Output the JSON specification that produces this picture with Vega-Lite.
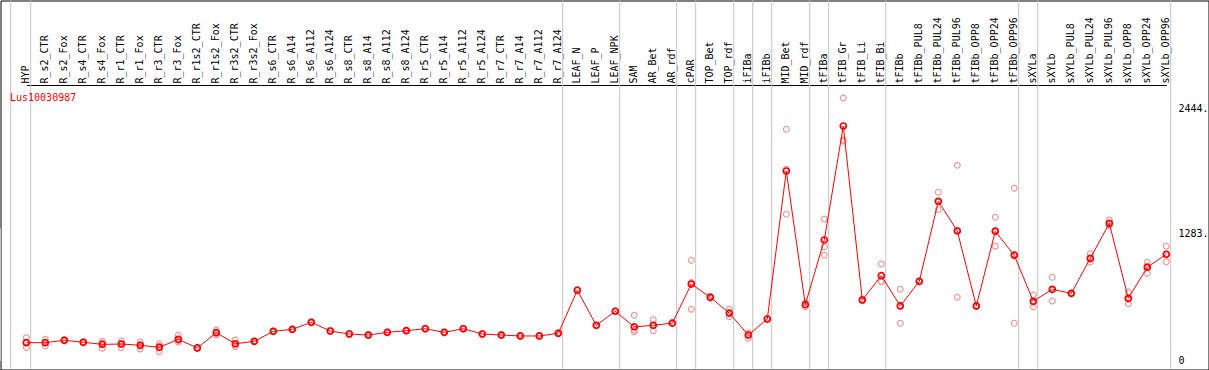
{
  "$schema": "https://vega.github.io/schema/vega-lite/v6.json",
  "autosize": "none",
  "width": 1208,
  "height": 369,
  "padding": {"left": 0.5, "top": 0.5, "right": 0.5, "bottom": 0.5},
  "background": "white",
  "config": {
    "view": {"stroke": "black", "strokeWidth": 1},
    "font": "DejaVu Sans Mono"
  },
  "title": {
    "text": "Lus10030987",
    "color": "#ff0000",
    "font": "DejaVu Sans Mono",
    "fontSize": 10,
    "fontWeight": "normal",
    "anchor": "start",
    "frame": "group",
    "orient": "top",
    "offset": -103,
    "dx": 9.5
  },
  "datasets": {
    "means": [
      {"s": "HYP", "v": 177}, {"s": "R_s2_CTR", "v": 177}, {"s": "R_s2_Fox", "v": 200},
      {"s": "R_s4_CTR", "v": 181}, {"s": "R_s4_Fox", "v": 161}, {"s": "R_r1_CTR", "v": 164},
      {"s": "R_r1_Fox", "v": 152}, {"s": "R_r3_CTR", "v": 132}, {"s": "R_r3_Fox", "v": 210},
      {"s": "R_r1s2_CTR", "v": 126}, {"s": "R_r1s2_Fox", "v": 274}, {"s": "R_r3s2_CTR", "v": 167},
      {"s": "R_r3s2_Fox", "v": 190}, {"s": "R_s6_CTR", "v": 287}, {"s": "R_s6_A14", "v": 306},
      {"s": "R_s6_A112", "v": 374}, {"s": "R_s6_A124", "v": 290}, {"s": "R_s8_CTR", "v": 261},
      {"s": "R_s8_A14", "v": 251}, {"s": "R_s8_A112", "v": 277}, {"s": "R_s8_A124", "v": 293},
      {"s": "R_r5_CTR", "v": 312}, {"s": "R_r5_A14", "v": 277}, {"s": "R_r5_A112", "v": 312},
      {"s": "R_r5_A124", "v": 261}, {"s": "R_r7_CTR", "v": 251}, {"s": "R_r7_A14", "v": 242},
      {"s": "R_r7_A112", "v": 242}, {"s": "R_r7_A124", "v": 268}, {"s": "LEAF_N", "v": 684},
      {"s": "LEAF_P", "v": 345}, {"s": "LEAF_NPK", "v": 481}, {"s": "SAM", "v": 330},
      {"s": "AR_Bet", "v": 345}, {"s": "AR_rdf", "v": 366}, {"s": "cPAR", "v": 744},
      {"s": "TOP_Bet", "v": 616}, {"s": "TOP_rdf", "v": 463}, {"s": "iFIBa", "v": 250},
      {"s": "iFIBb", "v": 406}, {"s": "MID_Bet", "v": 1837}, {"s": "MID_rdf", "v": 545},
      {"s": "tFIBa", "v": 1170}, {"s": "tFIB_Gr", "v": 2272}, {"s": "tFIB_Li", "v": 590},
      {"s": "tFIB_Bi", "v": 825}, {"s": "tFIBb", "v": 532}, {"s": "tFIBb_PUL8", "v": 770},
      {"s": "tFIBb_PUL24", "v": 1544}, {"s": "tFIBb_PUL96", "v": 1257}, {"s": "tFIBb_OPP8", "v": 532},
      {"s": "tFIBb_OPP24", "v": 1254}, {"s": "tFIBb_OPP96", "v": 1022}, {"s": "sXYLa", "v": 577},
      {"s": "sXYLb", "v": 693}, {"s": "sXYLb_PUL8", "v": 654}, {"s": "sXYLb_PUL24", "v": 993},
      {"s": "sXYLb_PUL96", "v": 1331}, {"s": "sXYLb_OPP8", "v": 606}, {"s": "sXYLb_OPP24", "v": 906},
      {"s": "sXYLb_OPP96", "v": 1032}
    ],
    "reps": [
      {"s": "HYP", "v": 225}, {"s": "HYP", "v": 130}, {"s": "HYP", "v": 177},
      {"s": "R_s2_CTR", "v": 210}, {"s": "R_s2_CTR", "v": 145}, {"s": "R_s2_CTR", "v": 177},
      {"s": "R_s2_Fox", "v": 205}, {"s": "R_s2_Fox", "v": 195},
      {"s": "R_s4_CTR", "v": 185}, {"s": "R_s4_CTR", "v": 178},
      {"s": "R_s4_Fox", "v": 190}, {"s": "R_s4_Fox", "v": 123}, {"s": "R_s4_Fox", "v": 170},
      {"s": "R_r1_CTR", "v": 193}, {"s": "R_r1_CTR", "v": 129}, {"s": "R_r1_CTR", "v": 170},
      {"s": "R_r1_Fox", "v": 184}, {"s": "R_r1_Fox", "v": 116}, {"s": "R_r1_Fox", "v": 156},
      {"s": "R_r3_CTR", "v": 164}, {"s": "R_r3_CTR", "v": 90}, {"s": "R_r3_CTR", "v": 142},
      {"s": "R_r3_Fox", "v": 248}, {"s": "R_r3_Fox", "v": 184}, {"s": "R_r3_Fox", "v": 198},
      {"s": "R_r1s2_CTR", "v": 130}, {"s": "R_r1s2_CTR", "v": 122},
      {"s": "R_r1s2_Fox", "v": 300}, {"s": "R_r1s2_Fox", "v": 251}, {"s": "R_r1s2_Fox", "v": 271},
      {"s": "R_r3s2_CTR", "v": 203}, {"s": "R_r3s2_CTR", "v": 138}, {"s": "R_r3s2_CTR", "v": 160},
      {"s": "R_r3s2_Fox", "v": 193}, {"s": "R_r3s2_Fox", "v": 187},
      {"s": "R_s6_CTR", "v": 291}, {"s": "R_s6_CTR", "v": 283},
      {"s": "R_s6_A14", "v": 310}, {"s": "R_s6_A14", "v": 302},
      {"s": "R_s6_A112", "v": 378}, {"s": "R_s6_A112", "v": 370},
      {"s": "R_s6_A124", "v": 294}, {"s": "R_s6_A124", "v": 286},
      {"s": "R_s8_CTR", "v": 265}, {"s": "R_s8_CTR", "v": 257},
      {"s": "R_s8_A14", "v": 255}, {"s": "R_s8_A14", "v": 247},
      {"s": "R_s8_A112", "v": 281}, {"s": "R_s8_A112", "v": 273},
      {"s": "R_s8_A124", "v": 297}, {"s": "R_s8_A124", "v": 289},
      {"s": "R_r5_CTR", "v": 316}, {"s": "R_r5_CTR", "v": 308},
      {"s": "R_r5_A14", "v": 281}, {"s": "R_r5_A14", "v": 273},
      {"s": "R_r5_A112", "v": 316}, {"s": "R_r5_A112", "v": 308},
      {"s": "R_r5_A124", "v": 265}, {"s": "R_r5_A124", "v": 257},
      {"s": "R_r7_CTR", "v": 255}, {"s": "R_r7_CTR", "v": 247},
      {"s": "R_r7_A14", "v": 246}, {"s": "R_r7_A14", "v": 238},
      {"s": "R_r7_A112", "v": 246}, {"s": "R_r7_A112", "v": 238},
      {"s": "R_r7_A124", "v": 272}, {"s": "R_r7_A124", "v": 264},
      {"s": "LEAF_N", "v": 688}, {"s": "LEAF_N", "v": 680},
      {"s": "LEAF_P", "v": 348}, {"s": "LEAF_P", "v": 342},
      {"s": "LEAF_NPK", "v": 484}, {"s": "LEAF_NPK", "v": 478},
      {"s": "SAM", "v": 442}, {"s": "SAM", "v": 300}, {"s": "SAM", "v": 283},
      {"s": "AR_Bet", "v": 399}, {"s": "AR_Bet", "v": 293}, {"s": "AR_Bet", "v": 345},
      {"s": "AR_rdf", "v": 369}, {"s": "AR_rdf", "v": 363},
      {"s": "cPAR", "v": 973}, {"s": "cPAR", "v": 500}, {"s": "cPAR", "v": 760},
      {"s": "TOP_Bet", "v": 625}, {"s": "TOP_Bet", "v": 608},
      {"s": "TOP_rdf", "v": 500}, {"s": "TOP_rdf", "v": 428}, {"s": "TOP_rdf", "v": 463},
      {"s": "iFIBa", "v": 274}, {"s": "iFIBa", "v": 219}, {"s": "iFIBa", "v": 257},
      {"s": "iFIBb", "v": 410}, {"s": "iFIBb", "v": 402},
      {"s": "MID_Bet", "v": 2240}, {"s": "MID_Bet", "v": 1418}, {"s": "MID_Bet", "v": 1853},
      {"s": "MID_rdf", "v": 564}, {"s": "MID_rdf", "v": 525}, {"s": "MID_rdf", "v": 545},
      {"s": "tFIBa", "v": 1373}, {"s": "tFIBa", "v": 1105}, {"s": "tFIBa", "v": 1022},
      {"s": "tFIB_Gr", "v": 2543}, {"s": "tFIB_Gr", "v": 2137}, {"s": "tFIB_Gr", "v": 2124},
      {"s": "tFIB_Li", "v": 600}, {"s": "tFIB_Li", "v": 582},
      {"s": "tFIB_Bi", "v": 938}, {"s": "tFIB_Bi", "v": 770}, {"s": "tFIB_Bi", "v": 765},
      {"s": "tFIBb", "v": 693}, {"s": "tFIBb", "v": 364}, {"s": "tFIBb", "v": 540},
      {"s": "tFIBb_PUL8", "v": 775}, {"s": "tFIBb_PUL8", "v": 765},
      {"s": "tFIBb_PUL24", "v": 1631}, {"s": "tFIBb_PUL24", "v": 1463}, {"s": "tFIBb_PUL24", "v": 1540},
      {"s": "tFIBb_PUL96", "v": 1892}, {"s": "tFIBb_PUL96", "v": 616}, {"s": "tFIBb_PUL96", "v": 1263},
      {"s": "tFIBb_OPP8", "v": 537}, {"s": "tFIBb_OPP8", "v": 527},
      {"s": "tFIBb_OPP24", "v": 1389}, {"s": "tFIBb_OPP24", "v": 1109}, {"s": "tFIBb_OPP24", "v": 1264},
      {"s": "tFIBb_OPP96", "v": 1670}, {"s": "tFIBb_OPP96", "v": 364}, {"s": "tFIBb_OPP96", "v": 1032},
      {"s": "sXYLa", "v": 638}, {"s": "sXYLa", "v": 525}, {"s": "sXYLa", "v": 568},
      {"s": "sXYLb", "v": 809}, {"s": "sXYLb", "v": 580}, {"s": "sXYLb", "v": 690},
      {"s": "sXYLb_PUL8", "v": 658}, {"s": "sXYLb_PUL8", "v": 650},
      {"s": "sXYLb_PUL24", "v": 1037}, {"s": "sXYLb_PUL24", "v": 957}, {"s": "sXYLb_PUL24", "v": 985},
      {"s": "sXYLb_PUL96", "v": 1363}, {"s": "sXYLb_PUL96", "v": 1320}, {"s": "sXYLb_PUL96", "v": 1310},
      {"s": "sXYLb_OPP8", "v": 667}, {"s": "sXYLb_OPP8", "v": 554}, {"s": "sXYLb_OPP8", "v": 597},
      {"s": "sXYLb_OPP24", "v": 954}, {"s": "sXYLb_OPP24", "v": 848}, {"s": "sXYLb_OPP24", "v": 916},
      {"s": "sXYLb_OPP96", "v": 1109}, {"s": "sXYLb_OPP96", "v": 960}, {"s": "sXYLb_OPP96", "v": 1027}
    ],
    "groupEnds": [
      {"s": "HYP"}, {"s": "R_r7_A124"}, {"s": "LEAF_NPK"}, {"s": "AR_rdf"}, {"s": "cPAR"},
      {"s": "TOP_rdf"}, {"s": "iFIBa"}, {"s": "iFIBb"}, {"s": "MID_rdf"}, {"s": "tFIBa"},
      {"s": "tFIB_Bi"}, {"s": "tFIBb_OPP96"}, {"s": "sXYLa"}, {"s": "sXYLb_OPP96"}
    ],
    "groupStart": [{"s": "HYP"}]
  },
  "encoding": {
    "x": {
      "field": "s",
      "type": "nominal",
      "sort": null,
      "scale": {"type": "point", "range": [25.8, 1165.8], "padding": 0,
        "domain": ["HYP","R_s2_CTR","R_s2_Fox","R_s4_CTR","R_s4_Fox","R_r1_CTR","R_r1_Fox","R_r3_CTR","R_r3_Fox","R_r1s2_CTR","R_r1s2_Fox","R_r3s2_CTR","R_r3s2_Fox","R_s6_CTR","R_s6_A14","R_s6_A112","R_s6_A124","R_s8_CTR","R_s8_A14","R_s8_A112","R_s8_A124","R_r5_CTR","R_r5_A14","R_r5_A112","R_r5_A124","R_r7_CTR","R_r7_A14","R_r7_A112","R_r7_A124","LEAF_N","LEAF_P","LEAF_NPK","SAM","AR_Bet","AR_rdf","cPAR","TOP_Bet","TOP_rdf","iFIBa","iFIBb","MID_Bet","MID_rdf","tFIBa","tFIB_Gr","tFIB_Li","tFIB_Bi","tFIBb","tFIBb_PUL8","tFIBb_PUL24","tFIBb_PUL96","tFIBb_OPP8","tFIBb_OPP24","tFIBb_OPP96","sXYLa","sXYLb","sXYLb_PUL8","sXYLb_PUL24","sXYLb_PUL96","sXYLb_OPP8","sXYLb_OPP24","sXYLb_OPP96"]},
      "axis": {
        "orient": "top",
        "offset": -84.5,
        "title": null,
        "ticks": false,
        "domainColor": "black",
        "domainWidth": 1,
        "labelAngle": 270,
        "labelAlign": "left",
        "labelBaseline": "middle",
        "labelPadding": 2,
        "labelOffset": -1,
        "labelFont": "DejaVu Sans Mono",
        "labelFontSize": 10,
        "labelColor": "black",
        "labelOverlap": false,
        "labelBound": false,
        "labelLimit": 200,
        "grid": false
      }
    }
  },
  "layer": [
    {
      "data": {"name": "groupEnds"},
      "mark": {"type": "rule", "color": "#c4c4c4", "strokeWidth": 1, "xOffset": 4.4},
      "encoding": {"x": {"field": "s", "type": "nominal", "sort": null}}
    },
    {
      "data": {"name": "groupStart"},
      "mark": {"type": "rule", "color": "#c4c4c4", "strokeWidth": 1, "xOffset": -15.6},
      "encoding": {"x": {"field": "s", "type": "nominal", "sort": null}}
    },
    {
      "data": {"values": [{"g": 1283}]},
      "mark": {"type": "rule", "color": "#c4c4c4", "strokeWidth": 1},
      "encoding": {"y": {"field": "g", "type": "quantitative"}}
    },
    {
      "data": {"name": "reps"},
      "mark": {"type": "point", "shape": "circle", "filled": false, "stroke": "#ec9a9a", "strokeWidth": 1.2, "size": 34, "opacity": 1},
      "encoding": {
        "x": {"field": "s", "type": "nominal", "sort": null},
        "y": {"field": "v", "type": "quantitative"}
      }
    },
    {
      "data": {"name": "means"},
      "mark": {"type": "line", "color": "#ff0000", "strokeWidth": 1},
      "encoding": {
        "x": {"field": "s", "type": "nominal", "sort": null},
        "y": {"field": "v", "type": "quantitative"}
      }
    },
    {
      "data": {"name": "means"},
      "mark": {"type": "point", "shape": "circle", "filled": false, "stroke": "#ff0000", "strokeWidth": 1.7, "size": 36, "opacity": 1},
      "encoding": {
        "x": {"field": "s", "type": "nominal", "sort": null},
        "y": {
          "field": "v",
          "type": "quantitative",
          "scale": {"domain": [-82.2, 3485.5], "nice": false, "zero": false},
          "axis": {
            "orient": "right",
            "offset": -38.5,
            "title": null,
            "values": [0, 1283, 2444],
            "labelExpr": "datum.value == 0 ? '0' : datum.value + '.'",
            "ticks": false,
            "domain": false,
            "grid": false,
            "labelPadding": 8,
            "labelAlign": "left",
            "labelBaseline": {"condition": {"test": "datum.value == 1283", "value": "top"}, "value": "middle"},
            "labelFont": "DejaVu Sans Mono",
            "labelFontSize": 10,
            "labelColor": "black",
            "labelOverlap": false,
            "labelBound": false
          }
        }
      }
    }
  ],
  "resolve": {"scale": {"x": "shared", "y": "shared"}}
}
